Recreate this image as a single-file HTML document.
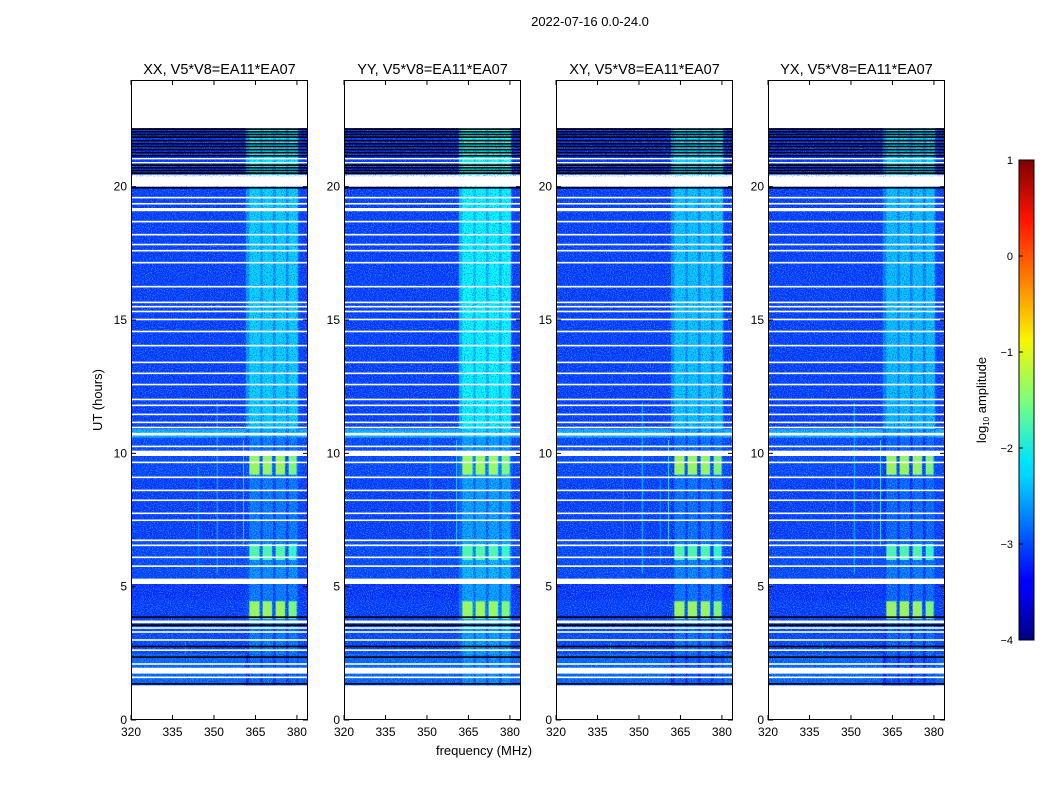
<!DOCTYPE html>
<html><head><meta charset="utf-8"><style>
body{margin:0;background:#fff;width:1050px;height:800px;overflow:hidden}
svg text{font-family:"Liberation Sans",sans-serif;fill:#000}
</style></head><body>
<svg id="fig" width="1050" height="800" xmlns="http://www.w3.org/2000/svg">
<defs>
<filter id="nz" x="0" y="0" width="100%" height="100%">
<feTurbulence type="fractalNoise" baseFrequency="0.95" numOctaves="1" seed="4"/>
<feColorMatrix type="matrix" values="0 0 0 0 0.15  0 0 0 0 0.75  0 0 0 0 1  4 0 0 0 -1.9"/>
</filter>
<filter id="nzd" x="0" y="0" width="100%" height="100%">
<feTurbulence type="fractalNoise" baseFrequency="0.9" numOctaves="1" seed="9"/>
<feColorMatrix type="matrix" values="0 0 0 0 0  0 0 0 0 0  0 0 0 0 0.5  4 0 0 0 -2.1"/>
</filter>
<linearGradient id="jet" x1="0" y1="1" x2="0" y2="0">
<stop offset="0" stop-color="#00007f"/><stop offset="0.11" stop-color="#0000ff"/>
<stop offset="0.125" stop-color="#0000ff"/><stop offset="0.34" stop-color="#00d4ff"/>
<stop offset="0.375" stop-color="#00e5f8"/><stop offset="0.5" stop-color="#7dff7a"/>
<stop offset="0.625" stop-color="#f8f500"/><stop offset="0.75" stop-color="#ff7f00"/>
<stop offset="0.875" stop-color="#ff1400"/><stop offset="1" stop-color="#7f0000"/>
</linearGradient>
</defs>
<text x="590" y="26" font-size="13" text-anchor="middle">2022-07-16 0.0-24.0</text>
<text transform="translate(102,400) rotate(-90)" font-size="13" text-anchor="middle">UT (hours)</text>
<text x="484" y="755" font-size="13" text-anchor="middle">frequency (MHz)</text>
<g id="panels"></g>
<g id="cbar"></g>
</svg>
<script>
// ---- data ----
const panelNames = ["XX","YY","XY","YX"];
const panelTitles = ["XX, V5*V8=EA11*EA07","YY, V5*V8=EA11*EA07","XY, V5*V8=EA11*EA07","YX, V5*V8=EA11*EA07"];
const xTicks = [320,335,350,365,380];
const yTicks = [0,5,10,15,20];
const cbarTicks = [1,0,-1,-2,-3,-4];
// time segments: start hour, end hour, background log10 amp, RFI band log10 amp
const segStart = [1.3, 2.45, 3.7, 4.5, 5.3, 6.7, 9.1, 10.0, 10.6, 10.9, 20.45];
const segEnd   = [2.45,3.7, 4.5, 5.3, 6.7, 9.1, 10.0, 10.6, 10.9, 20.0, 22.2];
const segBase  = [-2.9,-3.05,-3.1,-3.15,-3.05,-3.1,-3.05,-3.05,-2.5,-3.1,-3.15];
const segBand  = [-2.9,-2.8,-2.7,-2.8,-2.7,-2.8,-2.7,-2.8,-2.5,-2.35,-2.2];
// per-panel band brightness offset
const panelBandOffset = [0, 0.2, -0.05, -0.1];
// RFI sub-band blocks (MHz)
const subLo = [362.8, 367.6, 372.3, 377.0];
const subHi = [366.8, 371.3, 376.0, 380.2];
// bright block episodes: start, end hour, level
const blkStart = [3.8, 6.0, 9.2];
const blkEnd   = [4.45, 6.6, 10.0];
const blkLevel = [-1.3, -1.7, -1.3];
// flagged (white) rows: hour centre, thickness in hours
const flagH = [20.2,19.59,19.36,19.14,18.69,18.2,17.83,17.6,17.15,16.25,15.66,15.5,15.32,15.02,14.57,14.04,13.41,13.0,12.58,12.02,11.8,11.46,11.16,10.97,10.72,10.26,10.0,9.66,9.1,8.61,8.24,7.75,7.49,6.74,6.55,6.1,5.77,5.2,3.68,3.45,3.3,3.0,2.62,2.1,1.85,1.6,21.05,20.9];
const flagW = [0.35,0.06,0.06,0.12,0.06,0.06,0.06,0.06,0.06,0.06,0.06,0.06,0.06,0.06,0.06,0.06,0.06,0.06,0.06,0.06,0.06,0.06,0.06,0.06,0.1,0.06,0.2,0.06,0.06,0.06,0.06,0.06,0.06,0.06,0.06,0.06,0.06,0.2,0.1,0.06,0.06,0.06,0.06,0.06,0.22,0.06,0.05,0.05];
// black (zero) rows
const zeroH = [22.15,22.05,21.95,21.85,21.72,21.6,21.5,21.38,21.27,21.15,20.8,20.7,20.6,20.5,19.95,3.85,3.55,2.75,2.35,1.35];
// narrow vertical RFI lines: freq, start, end, level
const vlF  = [339.5, 344.2, 351.0, 357.5, 360.5];
const vlT0 = [2.5, 5.5, 5.5, 5.8, 6.5];
const vlT1 = [2.9, 9.5, 11.9, 9.0, 10.5];
const vlL  = [-2.4, -2.6, -2.2, -2.5, -1.9];

// ---- helpers ----
const NS="http://www.w3.org/2000/svg";
function jet(v){const t=Math.max(0,Math.min(1,(v+4)/5));
 const c=x=>Math.round(255*Math.max(0,Math.min(1,1.5-Math.abs(4*t-x))));
 return `rgb(${c(3)},${c(2)},${c(1)})`;}
function mk(tag,attrs,parent){const e=document.createElementNS(NS,tag);for(const k in attrs)e.setAttribute(k,attrs[k]);parent.appendChild(e);return e;}
const X0=[131,344,556,768], PW=177, PT=80, PB=720;
const fMin=320,fMax=384,tMin=0,tMax=24;
const panels=document.getElementById('panels');

X0.forEach((x0,p)=>{
 const xs=f=>x0+(f-fMin)/(fMax-fMin)*PW;
 const ys=t=>PB-(t-tMin)/(tMax-tMin)*(PB-PT);
 const g=mk('g',{},panels);
 
 
 const clip=mk('clipPath',{id:'c'+p},g);mk('rect',{x:x0,y:PT,width:PW,height:PB-PT},clip);
 const img=mk('g',{'clip-path':`url(#c${p})`},g);
 
 
 segStart.forEach((s,i)=>{
  const y1=ys(segEnd[i]),y2=ys(s);
  const r=mk('rect',{x:x0,y:y1,width:PW,height:y2-y1,fill:jet(segBase[i])},img);
  
  
  const bl=segBand[i]+panelBandOffset[p];
  mk('rect',{x:xs(361.5),y:y1,width:xs(380.5)-xs(361.5),height:y2-y1,fill:jet(bl-0.3)},img);
  subLo.forEach((lo,k)=>{
   const b=mk('rect',{x:xs(lo),y:y1,width:xs(subHi[k])-xs(lo),height:y2-y1,fill:jet(bl)},img);
   
   
  });
 });
 // noise speckle
 mk('rect',{x:x0,y:ys(22.2),width:PW,height:ys(1.3)-ys(22.2),filter:'url(#nz)',opacity:0.55},img);
 mk('rect',{x:x0,y:ys(22.2),width:PW,height:ys(1.3)-ys(22.2),filter:'url(#nzd)',opacity:0.6},img);
 blkStart.forEach((s,i)=>{
  subLo.forEach((lo,k)=>{
   const b=mk('rect',{x:xs(lo),y:ys(blkEnd[i]),width:xs(subHi[k])-xs(lo)-1,height:ys(s)-ys(blkEnd[i]),fill:jet(blkLevel[i]-(k==3?0.15:0)),opacity:0.9},img);
   
   
  });
 });
 vlF.forEach((f,i)=>{
  const l=mk('rect',{x:xs(f),y:ys(vlT1[i]),width:1,height:ys(vlT0[i])-ys(vlT1[i]),fill:jet(vlL[i]+(p==1?-0.3:0)),opacity:0.7},img);
  
  
 });
 zeroH.forEach(h=>{
  const l=mk('rect',{x:x0,y:ys(h)-1,width:PW,height:1.6,fill:'#000'},img);
  
  
 });
 flagH.forEach((h,i)=>{
  const hh=Math.max(1.4,flagW[i]*(PB-PT)/24);
  const l=mk('rect',{x:x0,y:ys(h)-hh/2,width:PW,height:hh,fill:'#fff'},img);
  
  
 });
 // frame
 const fr=mk('rect',{x:x0+0.5,y:PT+0.5,width:PW-1,height:PB-PT-1,fill:'none',stroke:'#000','stroke-width':1},g);
 
 
 const tt=mk('text',{x:x0+PW/2,y:74,'font-size':14.5,'text-anchor':'middle'},g);
 tt.textContent=panelTitles[p];
 
 
 xTicks.forEach(v=>{
  const x=xs(v);
  mk('line',{x1:x,x2:x,y1:PB,y2:PB-5,stroke:'#000'},g);
  mk('line',{x1:x,x2:x,y1:PT,y2:PT+5,stroke:'#000'},g);
  const t=mk('text',{x:x,y:PB+16,'font-size':12,'text-anchor':'middle'},g);
  t.textContent=v;
  
  
 });
 yTicks.forEach(v=>{
  const y=ys(v);
  mk('line',{x1:x0,x2:x0+5,y1:y,y2:y,stroke:'#000'},g);
  mk('line',{x1:x0+PW,x2:x0+PW-5,y1:y,y2:y,stroke:'#000'},g);
  const t=mk('text',{x:x0-4,y:y+4,'font-size':12,'text-anchor':'end'},g);
  t.textContent=v;
  
  
 });
});

// colorbar
const cb=document.getElementById('cbar');


const CX=1019,CW=15,CT=160,CBt=640;
mk('rect',{x:CX,y:CT,width:CW,height:CBt-CT,fill:'url(#jet)',stroke:'#000','stroke-width':1},cb);
cbarTicks.forEach(v=>{
 const y=CBt-(v+4)/5*(CBt-CT);
 mk('line',{x1:CX,x2:CX+4,y1:y,y2:y,stroke:'#000'},cb);
 const t=mk('text',{x:CX-6,y:y+4,'font-size':11,'text-anchor':'end'},cb);
 t.textContent=(v<0?'\u2212':'')+Math.abs(v);
 
 
});
const cl=mk('text',{transform:'translate(986,400) rotate(-90)','font-size':13,'text-anchor':'middle'},cb);
cl.innerHTML='log<tspan font-size="8" dy="3">10</tspan><tspan dy="-3"> amplitude</tspan>';


</script>
</body></html>
